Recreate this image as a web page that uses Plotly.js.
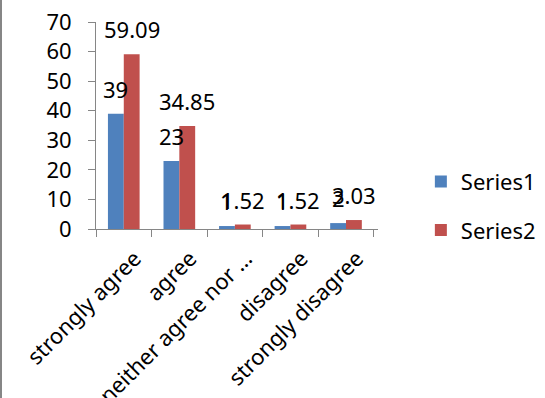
<!DOCTYPE html>
<html>
<head>
<meta charset="utf-8">
<script src="https://cdn.plot.ly/plotly-3.0.1.min.js"></script>
<style>html,body{margin:0;padding:0;background:#fff}#chart{width:545px;height:398px}</style>
</head>
<body>
<div id="chart"></div>
<script>
const categories = ["strongly agree", "agree", "neither agree nor …", "disagree", "strongly disagree"];
const series1 = [39, 23, 1, 1, 2];
const series2 = [59.09, 34.85, 1.52, 1.52, 3.03];
const seriesNames = ["Series1", "Series2"];
const yTicks = [0, 10, 20, 30, 40, 50, 60, 70];

const FONT = "Noto Sans, Open Sans, sans-serif";
const colors = ["#4F81BD", "#C0504D"];

const traces = [series1, series2].map((vals, i) => ({
  type: "bar",
  x: categories,
  y: vals,
  name: seriesNames[i],
  legendgroup: "g" + i,
  marker: {color: colors[i], line: {width: 0}},
  hoverinfo: "skip"
}));

const annotations = [];
[series1, series2].forEach((vals, i) => {
  vals.forEach((v, j) => {
    annotations.push({
      x: categories[j], y: v, xref: "x", yref: "y",
      text: String(v), showarrow: false,
      xshift: i === 0 ? -8 : 8, yshift: 25,
      font: {family: FONT, size: 22, color: "#000"}
    });
  });
});

const layout = {
  width: 545, height: 398,
  margin: {l: 96, r: 167, t: 22, b: 169, pad: 0, autoexpand: false},
  paper_bgcolor: "#fff", plot_bgcolor: "#fff",
  font: {family: FONT, size: 22, color: "#000"},
  barmode: "group",
  bargap: 0.43, bargroupgap: 0,
  xaxis: {
    type: "category",
    tickangle: -45,
    tickson: "boundaries",
    ticks: "outside", ticklen: 7, tickcolor: "#868686",
    ticklabelstandoff: 7,
    ticklabelshift: 11,
    showline: true, linecolor: "#868686", linewidth: 1,
    showgrid: false, zeroline: false, automargin: false,
    tickfont: {family: FONT, size: 22, color: "#000"}
  },
  yaxis: {
    range: [0, 70],
    tickvals: yTicks,
    ticks: "outside", ticklen: 7, tickcolor: "#868686",
    ticklabelstandoff: 12,
    showline: true, linecolor: "#868686", linewidth: 1,
    showgrid: false, zeroline: false, automargin: false,
    tickfont: {family: FONT, size: 22, color: "#000"}
  },
  showlegend: true,
  legend: {
    x: 1.152, xanchor: "left", y: 0.33, yanchor: "top",
    font: {family: FONT, size: 22, color: "#000"},
    tracegroupgap: 17, itemwidth: 30, bgcolor: "rgba(0,0,0,0)"
  },
  annotations: annotations,
  shapes: [{
    type: "line", xref: "paper", yref: "paper",
    x0: -95/282, x1: -95/282, y0: -169/207, y1: 22/207 + 1,
    line: {color: "#868686", width: 2}
  }]
};

Plotly.newPlot("chart", traces, layout, {displayModeBar: false, staticPlot: true});
</script>
</body>
</html>
